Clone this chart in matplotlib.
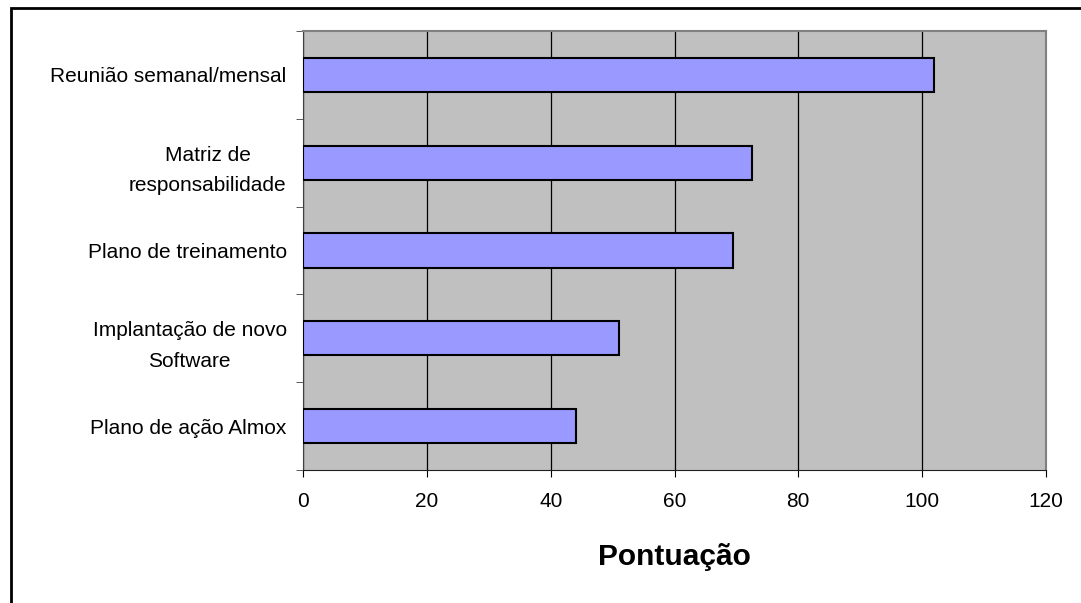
import matplotlib.pyplot as plt
from matplotlib.patches import Rectangle
from matplotlib.ticker import FixedLocator

plt.rcParams['font.family'] = 'Liberation Sans'

categories = ["Reunião semanal/mensal", "Matriz de\nresponsabilidade",
              "Plano de treinamento", "Implantação de novo\nSoftware",
              "Plano de ação Almox"]
pontuacao = [102, 72.5, 69.5, 51, 44]
x_ticks = [0, 20, 40, 60, 80, 100, 120]

fig = plt.figure(figsize=(10.81, 6.03), dpi=100)
ax = fig.add_axes([0.2806, 0.2206, 0.6868, 0.728])

ypos = list(range(len(categories)))[::-1]
ax.barh(ypos, pontuacao, height=0.39, color="#9999FF",
        edgecolor="black", linewidth=1.5, zorder=3)

ax.set_facecolor("#C0C0C0")
ax.set_xlim(0, 120)
ax.set_ylim(-0.5, len(categories) - 0.5)
ax.set_xticks(x_ticks)
ax.set_xticklabels([str(t) for t in x_ticks], fontsize=15)
ax.xaxis.grid(True, color="black", linewidth=0.9, zorder=1)

ax.set_yticks(ypos)
ax.set_yticklabels(categories, fontsize=15, linespacing=1.75, multialignment="center")
ax.yaxis.set_minor_locator(FixedLocator([i - 0.5 for i in range(len(categories) + 1)]))
ax.tick_params(axis="y", which="major", length=0, pad=12)
ax.tick_params(axis="y", which="minor", length=5, direction="out", color="#404040")
ax.tick_params(axis="x", length=5, direction="out", pad=11, color="black")

for side in ["top", "right"]:
    ax.spines[side].set_color("#808080")
    ax.spines[side].set_linewidth(1.5)
ax.spines["left"].set_color("#404040")
ax.spines["bottom"].set_color("#202020")

fig.text(0.624, 1 - 565 / 603, "Pontuação", fontsize=21.5, fontweight="bold",
         ha="center", va="baseline")

# moldura externa do grafico
fig.patches.append(Rectangle((11 / 1081, -0.1), 1.2, 1 - 8 / 603 + 0.1,
                             transform=fig.transFigure, fill=False,
                             edgecolor="black", linewidth=2))

fig.savefig("out.png", dpi=100)
